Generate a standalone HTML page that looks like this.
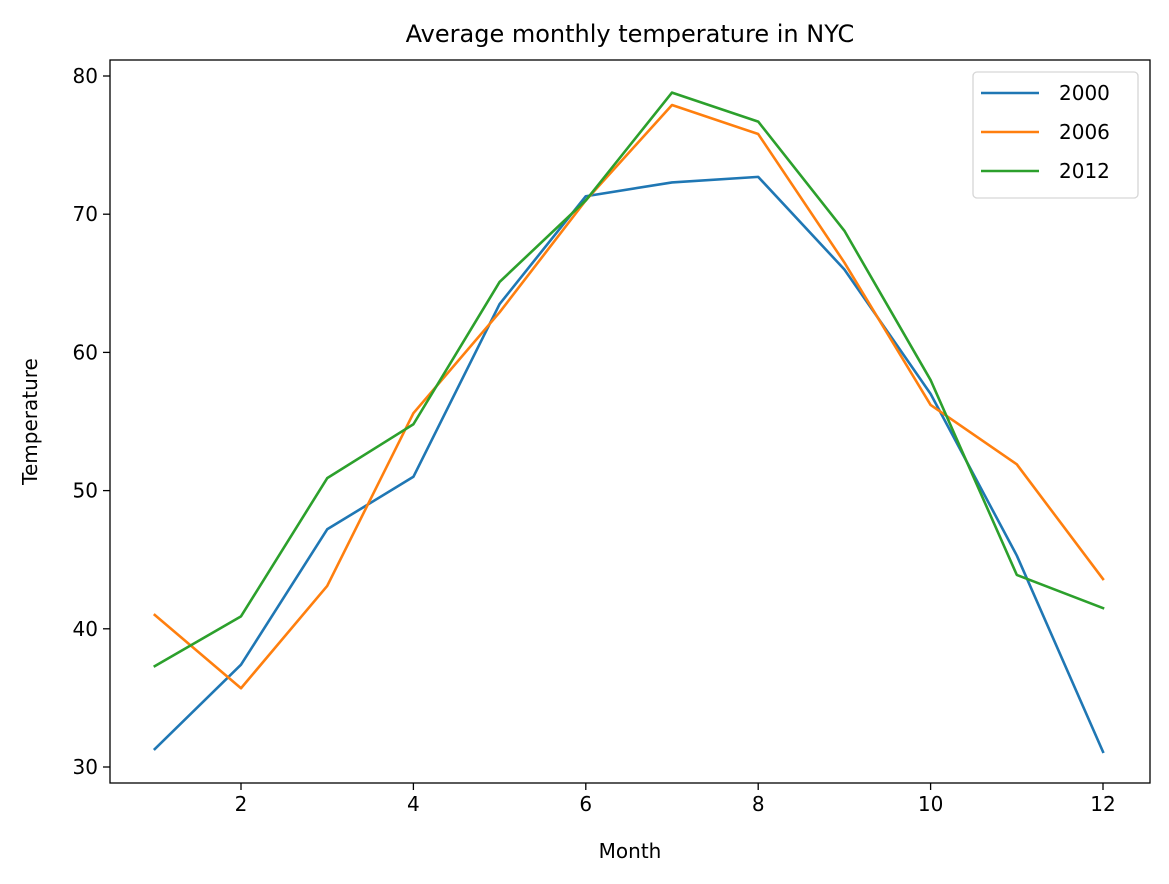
<!DOCTYPE html>
<html><head><meta charset="utf-8"><style>
body{margin:0;background:#fff;}
svg{display:block;font-family:"DejaVu Sans","Liberation Sans",sans-serif;}
</style></head><body>
<svg id="chart" width="1169" height="884">
<rect x="0" y="0" width="1169" height="884" fill="#fff"/>
<g id="plot"></g>
</svg>
<script>
const months = [1,2,3,4,5,6,7,8,9,10,11,12];
const series2000 = [31.3,37.4,47.2,51.0,63.5,71.3,72.3,72.7,66.0,57.0,45.3,31.1];
const series2006 = [41.0,35.7,43.1,55.6,62.9,71.0,77.9,75.8,66.5,56.2,51.9,43.6];
const series2012 = [37.3,40.9,50.9,54.8,65.1,71.0,78.8,76.7,68.8,58.0,43.9,41.5];
const seriesNames = ["2000","2006","2012"];
const xTicks = [2,4,6,8,10,12];
const yTicks = [30,40,50,60,70,80];

const L=110,R=1150,T=60,B=783;
function xs(v){return 154.8+(v-1)*86.2;}
function ys(v){return 767-(v-30)*13.82;}
const NS="http://www.w3.org/2000/svg";
const g=document.getElementById('plot');
function mk(tag,attrs,parent){const e=document.createElementNS(NS,tag);for(const k in attrs)e.setAttribute(k,attrs[k]);(parent||g).appendChild(e);return e;}

const colors=["#1f77b4","#ff7f0e","#2ca02c"];
const all=[series2000,series2006,series2012];
all.forEach((s,i)=>{
  const p=mk('polyline',{points:s.map((v,j)=>xs(months[j])+','+ys(v)).join(' '),fill:'none',stroke:colors[i],'stroke-width':2.6,'stroke-linejoin':'round','stroke-linecap':'square'});
  
  
});

const frame=mk('rect',{x:L,y:T,width:R-L,height:B-T,fill:'none',stroke:'#000','stroke-width':1.3});



xTicks.forEach(t=>{
  const x=xs(t);
  const l=mk('line',{x1:x,x2:x,y1:B,y2:B+7,stroke:'#000','stroke-width':1.3});
  
  
  const tx=mk('text',{x:x,y:B+28,'text-anchor':'middle','font-size':20,fill:'#000'});
  tx.textContent=t;
  
  
});
yTicks.forEach(t=>{
  const y=ys(t);
  const l=mk('line',{x1:L-7,x2:L,y1:y,y2:y,stroke:'#000','stroke-width':1.3});
  
  
  const tx=mk('text',{x:L-12,y:y+7,'text-anchor':'end','font-size':20,fill:'#000'});
  tx.textContent=t;
  
  
});

const title=mk('text',{x:(L+R)/2,y:42,'text-anchor':'middle','font-size':24,fill:'#000'});
title.textContent='Average monthly temperature in NYC';


const xl=mk('text',{x:(L+R)/2,y:858,'text-anchor':'middle','font-size':20,fill:'#000'});
xl.textContent='Month';


const yl=mk('text',{x:0,y:0,'text-anchor':'middle','font-size':20,fill:'#000',transform:'translate(37,'+((T+B)/2)+') rotate(-90)'});
yl.textContent='Temperature';



const lg=mk('g',{});


mk('rect',{x:973,y:72,width:165,height:126,rx:4,fill:'#fff','fill-opacity':0.8,stroke:'#d6d6d6','stroke-width':1.3},lg);
seriesNames.forEach((n,i)=>{
  const y=93+i*39;
  const e=mk('g',{},lg);
  
  
  mk('line',{x1:981,x2:1039,y1:y,y2:y,stroke:colors[i],'stroke-width':2.6},e);
  const t=mk('text',{x:1059,y:y+7,'font-size':20,fill:'#000'},e);
  t.textContent=n;
});
</script>
</body></html>
